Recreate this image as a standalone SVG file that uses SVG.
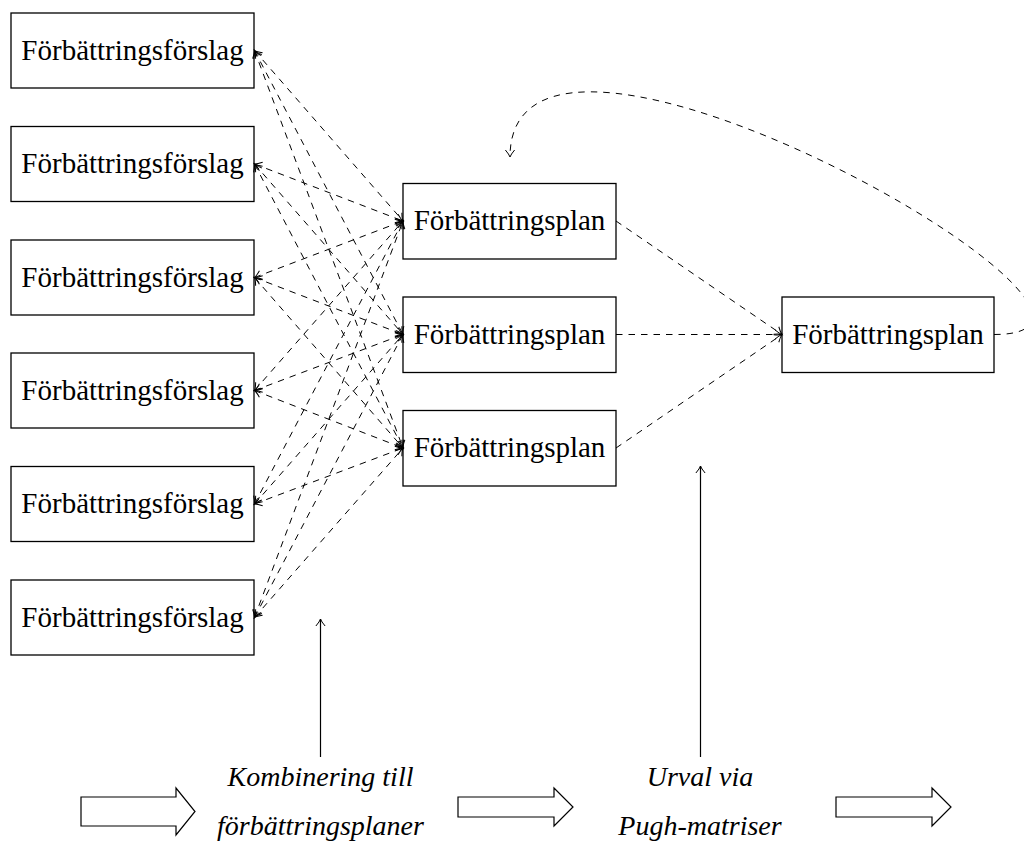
<svg xmlns="http://www.w3.org/2000/svg" width="1024" height="847" viewBox="0 0 1024 847">
  <style>
    .box { fill: #fff; stroke: #000; stroke-width: 1.3; }
    .lbl { font-family: "Liberation Serif", "Times New Roman", serif; font-size: 29px; fill: #000; text-anchor: middle; }
    .cap { font-family: "Liberation Serif", "Times New Roman", serif; font-size: 28px; font-style: italic; fill: #000; text-anchor: middle; }
    .dash { fill: none; stroke: #000; stroke-width: 1; stroke-dasharray: 6.5 6; }
    .solid { fill: none; stroke: #000; stroke-width: 1.2; }
    .block { fill: #fff; stroke: #000; stroke-width: 1.2; stroke-linejoin: miter; }
  </style>
  <defs>
    <!-- open arrow tip, drawn at 1:1 in user units -->
    <marker id="tip" markerUnits="userSpaceOnUse" markerWidth="20" markerHeight="20" refX="0" refY="0" orient="auto-start-reverse" overflow="visible">
      <path d="M -7 -4.6 Q -2.5 -0.8 0 0 Q -2.5 0.8 -7 4.6" fill="none" stroke="#000" stroke-width="1" stroke-dasharray="none"/>
    </marker>
  </defs>

  <!-- suggestion boxes -->
  <g id="forslag1"><rect class="box" x="11" y="13" width="243" height="75"/><text class="lbl" x="132.5" y="59.5">Förbättringsförslag</text></g>
  <g id="forslag2"><rect class="box" x="11" y="126.5" width="243" height="75"/><text class="lbl" x="132.5" y="173">Förbättringsförslag</text></g>
  <g id="forslag3"><rect class="box" x="11" y="240" width="243" height="75"/><text class="lbl" x="132.5" y="286.5">Förbättringsförslag</text></g>
  <g id="forslag4"><rect class="box" x="11" y="353" width="243" height="75"/><text class="lbl" x="132.5" y="399.5">Förbättringsförslag</text></g>
  <g id="forslag5"><rect class="box" x="11" y="466.5" width="243" height="75"/><text class="lbl" x="132.5" y="513">Förbättringsförslag</text></g>
  <g id="forslag6"><rect class="box" x="11" y="580" width="243" height="75"/><text class="lbl" x="132.5" y="626.5">Förbättringsförslag</text></g>

  <!-- combined plans -->
  <g id="plan1"><rect class="box" x="403" y="183.5" width="213" height="75.5"/><text class="lbl" x="509.5" y="230">Förbättringsplan</text></g>
  <g id="plan2"><rect class="box" x="403" y="297" width="213" height="75.5"/><text class="lbl" x="509.5" y="343.5">Förbättringsplan</text></g>
  <g id="plan3"><rect class="box" x="403" y="410.5" width="213" height="75.5"/><text class="lbl" x="509.5" y="457">Förbättringsplan</text></g>

  <!-- selected plan -->
  <g id="planFinal"><rect class="box" x="782" y="297" width="212" height="75.5"/><text class="lbl" x="888" y="343.5">Förbättringsplan</text></g>

  <!-- connectors -->
  <g id="connectors">
    <!-- every suggestion linked to every plan -->
    <path class="dash" marker-start="url(#tip)" marker-end="url(#tip)" d="M 254.5 50.5 L 403 221"/>
    <path class="dash" marker-start="url(#tip)" marker-end="url(#tip)" d="M 254.5 50.5 L 403 334.5"/>
    <path class="dash" marker-start="url(#tip)" marker-end="url(#tip)" d="M 254.5 50.5 L 403 448"/>
    <path class="dash" marker-start="url(#tip)" marker-end="url(#tip)" d="M 254.5 164 L 403 221"/>
    <path class="dash" marker-start="url(#tip)" marker-end="url(#tip)" d="M 254.5 164 L 403 334.5"/>
    <path class="dash" marker-start="url(#tip)" marker-end="url(#tip)" d="M 254.5 164 L 403 448"/>
    <path class="dash" marker-start="url(#tip)" marker-end="url(#tip)" d="M 254.5 277.5 L 403 221"/>
    <path class="dash" marker-start="url(#tip)" marker-end="url(#tip)" d="M 254.5 277.5 L 403 334.5"/>
    <path class="dash" marker-start="url(#tip)" marker-end="url(#tip)" d="M 254.5 277.5 L 403 448"/>
    <path class="dash" marker-start="url(#tip)" marker-end="url(#tip)" d="M 254.5 390.5 L 403 221"/>
    <path class="dash" marker-start="url(#tip)" marker-end="url(#tip)" d="M 254.5 390.5 L 403 334.5"/>
    <path class="dash" marker-start="url(#tip)" marker-end="url(#tip)" d="M 254.5 390.5 L 403 448"/>
    <path class="dash" marker-start="url(#tip)" marker-end="url(#tip)" d="M 254.5 504 L 403 221"/>
    <path class="dash" marker-start="url(#tip)" marker-end="url(#tip)" d="M 254.5 504 L 403 334.5"/>
    <path class="dash" marker-start="url(#tip)" marker-end="url(#tip)" d="M 254.5 504 L 403 448"/>
    <path class="dash" marker-start="url(#tip)" marker-end="url(#tip)" d="M 254.5 617.5 L 403 221"/>
    <path class="dash" marker-start="url(#tip)" marker-end="url(#tip)" d="M 254.5 617.5 L 403 334.5"/>
    <path class="dash" marker-start="url(#tip)" marker-end="url(#tip)" d="M 254.5 617.5 L 403 448"/>

    <!-- plans to the selected plan -->
    <path class="dash" marker-end="url(#tip)" d="M 616 221 L 782 334.5"/>
    <path class="dash" marker-end="url(#tip)" d="M 616 334.5 L 782 334.5"/>
    <path class="dash" marker-end="url(#tip)" d="M 616 448 L 782 334.5"/>

    <!-- feedback loop back to the first plan -->
    <path class="dash" marker-end="url(#tip)" d="M 994 334.5 C 1200 334.5, 510 -60, 510 157"/>

    <!-- stage pointers -->
    <path class="solid" marker-end="url(#tip)" d="M 320.5 757 L 320.5 619"/>
    <path class="solid" marker-end="url(#tip)" d="M 700.5 757 L 700.5 466"/>
  </g>

  <!-- process flow -->
  <g id="flow1"><path class="block" d="M 81 797 L 176 797 L 176 788 L 195 811.5 L 176 835 L 176 826 L 81 826 Z"/></g>
  <g id="stage1">
    <text class="cap" x="320.5" y="786">Kombinering till</text>
    <text class="cap" x="320.5" y="835">förbättringsplaner</text>
  </g>
  <g id="flow2"><path class="block" d="M 458 797 L 554 797 L 554 788 L 573 807 L 554 826 L 554 817 L 458 817 Z"/></g>
  <g id="stage2">
    <text class="cap" x="700" y="786">Urval via</text>
    <text class="cap" x="700" y="835">Pugh-matriser</text>
  </g>
  <g id="flow3"><path class="block" d="M 836 797 L 932 797 L 932 788 L 951 807 L 932 826 L 932 817 L 836 817 Z"/></g>
</svg>
